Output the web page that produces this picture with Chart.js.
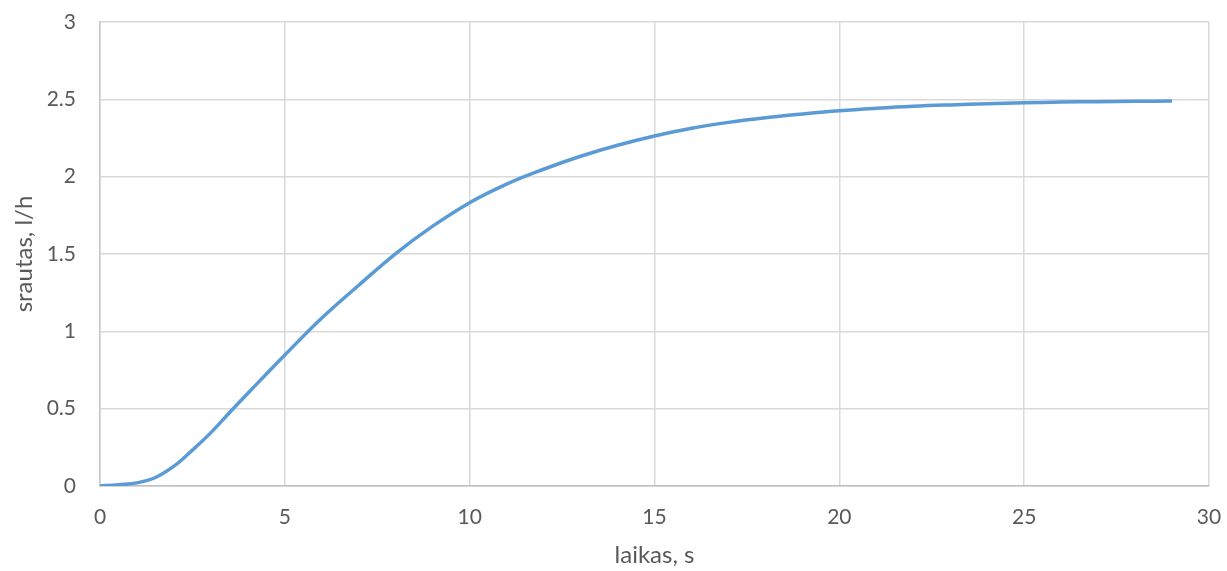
<!DOCTYPE html>
<html>
<head>
<meta charset="utf-8">
<script src="https://cdn.jsdelivr.net/npm/chart.js@4"></script>
<style>
  html, body { margin: 0; padding: 0; background: #ffffff; }
  #wrap { width: 1227px; height: 571px; }
</style>
</head>
<body>
<div id="wrap"><canvas id="c" width="1227" height="571"></canvas></div>
<script>
// Time (s) and flow rate (l/h) of the step response
const laikas = [0, 0.5, 1, 1.5, 2, 2.5, 3, 3.5, 4, 4.5, 5, 6, 7, 8, 9, 10, 11, 12, 13, 14, 15, 16, 17, 18, 19, 20, 21, 22, 23, 24, 25, 26, 27, 28, 29];
const srautas = [0, 0.008, 0.02, 0.055, 0.128, 0.232, 0.345, 0.474, 0.6, 0.724, 0.847, 1.086, 1.298, 1.503, 1.68, 1.832, 1.952, 2.048, 2.132, 2.203, 2.263, 2.313, 2.351, 2.381, 2.405, 2.426, 2.442, 2.455, 2.464, 2.471, 2.478, 2.482, 2.485, 2.487, 2.489];

const xTicks = [0, 5, 10, 15, 20, 25, 30];
const yTicks = [0, 0.5, 1, 1.5, 2, 2.5, 3];

const points = laikas.map((t, i) => ({ x: t, y: srautas[i] }));

const tickFont = { family: 'Lato, "Open Sans", sans-serif', size: 21 };
const titleFont = { family: 'Lato, "Open Sans", sans-serif', size: 24 };
const textColor = '#595959';
const gridColor = '#d9d9d9';

new Chart(document.getElementById('c'), {
  type: 'line',
  data: {
    datasets: [{
      data: points,
      borderColor: '#5b9bd5',
      borderWidth: 3.5,
      pointRadius: 0,
      fill: false,
      tension: 0.4
    }]
  },
  options: {
    responsive: false,
    animation: false,
    layout: { padding: { left: 0, right: 18, top: 22, bottom: 0 } },
    plugins: { legend: { display: false }, tooltip: { enabled: false } },
    scales: {
      x: {
        type: 'linear',
        min: xTicks[0],
        max: xTicks[xTicks.length - 1],
        afterBuildTicks: s => { s.ticks = xTicks.map(v => ({ value: v })); },
        afterFit: s => { s.height = 85; s.paddingLeft = 0; s.paddingRight = 0; },
        grid: { color: gridColor, lineWidth: 1.5, drawTicks: false },
        border: { color: '#bfbfbf', width: 1.5 },
        ticks: { color: textColor, font: tickFont, padding: 19, maxRotation: 0, callback: v => String(v) },
        title: { display: true, text: 'laikas, s', color: textColor, font: titleFont, padding: { top: 0, bottom: 1 } }
      },
      y: {
        type: 'linear',
        min: yTicks[0],
        max: yTicks[yTicks.length - 1],
        afterBuildTicks: s => { s.ticks = yTicks.map(v => ({ value: v })); },
        afterFit: s => { s.width = 100; s.paddingTop = 0; s.paddingBottom = 0; },
        grid: { color: gridColor, lineWidth: 1.5, drawTicks: false },
        border: { color: '#c8c8c8', width: 1.5 },
        ticks: { color: textColor, font: tickFont, padding: 24, callback: v => String(v) },
        title: { display: true, text: 'srautas, l/h', color: textColor, font: titleFont, padding: { top: 10, bottom: 0 } }
      }
    }
  }
});
</script>
</body>
</html>
